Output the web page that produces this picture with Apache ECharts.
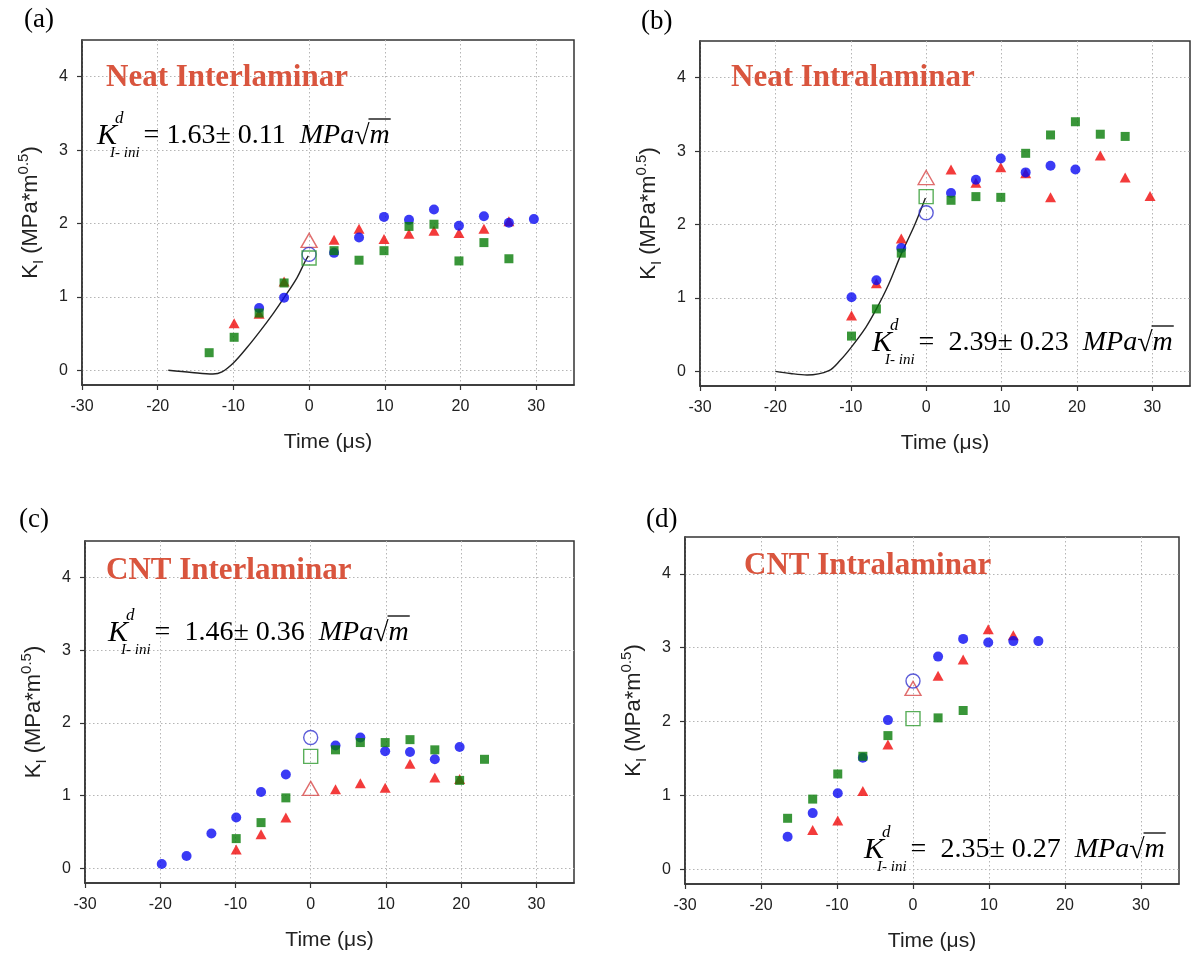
<!DOCTYPE html>
<html><head><meta charset="utf-8">
<script src="https://cdn.jsdelivr.net/npm/echarts@6.0.0/dist/echarts.min.js"></script>
<style>html,body{margin:0;padding:0;background:#fff}#c{width:1191px;height:958px}</style>
</head><body><div id="c"></div>
<script>
// ---------- DATA ----------
const xTicks = [-30, -20, -10, 0, 10, 20, 30];
const yTicks = [0, 1, 2, 3, 4];
const panelTitles = ['Neat Interlaminar', 'Neat Intralaminar', 'CNT Interlaminar', 'CNT Intralaminar'];
const panelLetters = ['(a)', '(b)', '(c)', '(d)'];
const kIniText = ['1.63\u00b1 0.11', '2.39\u00b1 0.23', '1.46\u00b1 0.36', '2.35\u00b1 0.27'];

// (a) Neat Interlaminar
const aRedT = [-9.9, -6.6, -3.3, 3.3, 6.6, 9.9, 13.2, 16.5, 19.8, 23.1, 26.4];
const aRedK = [0.64, 0.77, 1.21, 1.78, 1.93, 1.79, 1.86, 1.90, 1.87, 1.93, 2.03];
const aBlueT = [-6.6, -3.3, 3.3, 6.6, 9.9, 13.2, 16.5, 19.8, 23.1, 26.4, 29.7];
const aBlueK = [0.85, 0.99, 1.60, 1.81, 2.09, 2.05, 2.19, 1.97, 2.10, 2.01, 2.06];
const aGreenT = [-13.2, -9.9, -6.6, -3.3, 3.3, 6.6, 9.9, 13.2, 16.5, 19.8, 23.1, 26.4];
const aGreenK = [0.24, 0.45, 0.78, 1.19, 1.63, 1.50, 1.63, 1.96, 1.99, 1.49, 1.74, 1.52];
const aOpenK = [1.77, 1.58, 1.53]; // red, blue, green at t = 0
const aCurveT = [-18.6, -15.5, -12.7, -11.5, -10, -8.2, -6.5, -4.7, -3.3, -1.6, -0.5, -0.1];
const aCurveK = [0, -0.03, -0.05, -0.02, 0.1, 0.31, 0.53, 0.78, 0.99, 1.26, 1.49, 1.56];

// (b) Neat Intralaminar
const bRedT = [-9.9, -6.6, -3.3, 3.3, 6.6, 9.9, 13.2, 16.5, 23.1, 26.4, 29.7];
const bRedK = [0.76, 1.20, 1.81, 2.75, 2.57, 2.78, 2.70, 2.37, 2.94, 2.64, 2.39];
const bBlueT = [-9.9, -6.6, -3.3, 3.3, 6.6, 9.9, 13.2, 16.5, 19.8];
const bBlueK = [1.01, 1.24, 1.68, 2.43, 2.61, 2.90, 2.71, 2.80, 2.75];
const bGreenT = [-9.9, -6.6, -3.3, 3.3, 6.6, 9.9, 13.2, 16.5, 19.8, 23.1, 26.4];
const bGreenK = [0.48, 0.85, 1.61, 2.33, 2.38, 2.37, 2.97, 3.22, 3.40, 3.23, 3.20];
const bOpenK = [2.64, 2.16, 2.38];
const bCurveT = [-20, -18, -15.8, -12.9, -11.4, -10, -8, -6.6, -5, -3.3, -1.5, -0.1];
const bCurveK = [0, -0.03, -0.05, 0.01, 0.15, 0.32, 0.6, 0.85, 1.18, 1.6, 2.0, 2.36];

// (c) CNT Interlaminar
const cRedT = [-9.9, -6.6, -3.3, 3.3, 6.6, 9.9, 13.2, 16.5, 19.8];
const cRedK = [0.26, 0.47, 0.70, 1.09, 1.17, 1.11, 1.44, 1.25, 1.23];
const cBlueT = [-19.8, -16.5, -13.2, -9.9, -6.6, -3.3, 3.3, 6.6, 9.9, 13.2, 16.5, 19.8];
const cBlueK = [0.06, 0.17, 0.48, 0.70, 1.05, 1.29, 1.69, 1.80, 1.61, 1.60, 1.50, 1.67];
const cGreenT = [-9.9, -6.6, -3.3, 3.3, 6.6, 9.9, 13.2, 16.5, 19.8, 23.1];
const cGreenK = [0.41, 0.63, 0.97, 1.63, 1.73, 1.73, 1.77, 1.63, 1.21, 1.50];
const cOpenK = [1.10, 1.80, 1.54];

// (d) CNT Intralaminar
const dRedT = [-13.2, -9.9, -6.6, -3.3, 3.3, 6.6, 9.9, 13.2];
const dRedK = [0.53, 0.66, 1.06, 1.69, 2.62, 2.84, 3.25, 3.17];
const dBlueT = [-16.5, -13.2, -9.9, -6.6, -3.3, 3.3, 6.6, 9.9, 13.2, 16.5];
const dBlueK = [0.44, 0.76, 1.03, 1.51, 2.02, 2.88, 3.12, 3.07, 3.09, 3.09];
const dGreenT = [-16.5, -13.2, -9.9, -6.6, -3.3, 3.3, 6.6];
const dGreenK = [0.69, 0.95, 1.29, 1.53, 1.81, 2.05, 2.15];
const dOpenK = [2.45, 2.55, 2.04];

// ---------- BUILD ----------
const SANS = '"Liberation Sans", Arial, sans-serif';
const SERIF = '"Liberation Serif", "Times New Roman", serif';
const panels = [
  {red: [aRedT, aRedK], blue: [aBlueT, aBlueK], green: [aGreenT, aGreenK], open: aOpenK, curve: [aCurveT, aCurveK]},
  {red: [bRedT, bRedK], blue: [bBlueT, bBlueK], green: [bGreenT, bGreenK], open: bOpenK, curve: [bCurveT, bCurveK]},
  {red: [cRedT, cRedK], blue: [cBlueT, cBlueK], green: [cGreenT, cGreenK], open: cOpenK, curve: null},
  {red: [dRedT, dRedK], blue: [dBlueT, dBlueK], green: [dGreenT, dGreenK], open: dOpenK, curve: null}
];
const layouts = [
  {left: 82, top: 40, width: 492, height: 345},
  {left: 700, top: 41, width: 490, height: 345},
  {left: 85, top: 541, width: 489, height: 342},
  {left: 685, top: 537, width: 494, height: 347}
];
const titlePos = [[106, 78], [731, 78], [106, 571], [744, 566]];
const formulaPos = [[97, 136], [872, 343], [108, 633], [864, 850]];
const letterPos = [[24, 20], [641, 22], [19, 520], [646, 520]];

function pairs(T, K) { return T.map((t, i) => [t, K[i]]); }

const grids = [], xAxes = [], yAxes = [], series = [];
const gridLine = {show: true, lineStyle: {color: '#b5b5b5', type: [1.5, 2.5], width: 1}};
panels.forEach((p, i) => {
  const L = layouts[i];
  grids.push({left: L.left, top: L.top, width: L.width, height: L.height, show: true,
    borderColor: '#333', borderWidth: 1.5, containLabel: false, outerBoundsMode: 'none'});
  xAxes.push({gridIndex: i, type: 'value', min: -30, max: 35,
    axisLine: {onZero: false, lineStyle: {color: '#333', width: 1.5}},
    axisTick: {customValues: xTicks, length: 5, lineStyle: {color: '#333', width: 1.2}},
    axisLabel: {customValues: xTicks, fontSize: 16, color: '#222', margin: 14, fontFamily: SANS},
    splitLine: gridLine,
    name: 'Time (\u03bcs)', nameLocation: 'middle', nameGap: 47,
    nameTextStyle: {fontSize: 21, color: '#222', fontFamily: SANS}});
  yAxes.push({gridIndex: i, type: 'value', min: -0.2, max: 4.5,
    axisLine: {onZero: false, lineStyle: {color: '#333', width: 1.5}},
    axisTick: {customValues: yTicks, length: 5, lineStyle: {color: '#333', width: 1.2}},
    axisLabel: {customValues: yTicks, fontSize: 16, color: '#222', margin: 14, fontFamily: SANS},
    splitLine: gridLine,
    name: '{b|K}{s|I}{b| (MPa*m}{p|0.5}{b|)}', nameLocation: 'middle', nameGap: 36, nameRotate: 90,
    nameTextStyle: {color: '#222', fontFamily: SANS, rich: {
      b: {fontSize: 22, fontFamily: SANS, color: '#222', lineHeight: 30},
      s: {fontSize: 15, fontFamily: SANS, color: '#222', lineHeight: 15, verticalAlign: 'bottom'},
      p: {fontSize: 15, fontFamily: SANS, color: '#222', lineHeight: 15, verticalAlign: 'top'}
    }}});
  if (p.curve) {
    series.push({type: 'line', xAxisIndex: i, yAxisIndex: i, data: pairs(p.curve[0], p.curve[1]),
      symbol: 'none', smooth: 0.35, lineStyle: {color: '#222', width: 1.4}, silent: true, z: 2});
  }
  series.push({type: 'scatter', xAxisIndex: i, yAxisIndex: i, data: pairs(p.red[0], p.red[1]),
    symbol: 'triangle', symbolSize: [11, 10], itemStyle: {color: '#f00a0a'}, silent: true, z: 3});
  series.push({type: 'scatter', xAxisIndex: i, yAxisIndex: i, data: pairs(p.blue[0], p.blue[1]),
    symbol: 'circle', symbolSize: 10, itemStyle: {color: '#0a0af2'}, silent: true, z: 3});
  series.push({type: 'scatter', xAxisIndex: i, yAxisIndex: i, data: pairs(p.green[0], p.green[1]),
    symbol: 'rect', symbolSize: 9, itemStyle: {color: '#087c08'}, silent: true, z: 3});
  series.push({type: 'scatter', xAxisIndex: i, yAxisIndex: i, data: [[0, p.open[0]]],
    symbol: 'triangle', symbolSize: [16, 14], itemStyle: {color: 'rgba(0,0,0,0)', borderColor: '#d84848', borderWidth: 1.4}, silent: true, z: 4});
  series.push({type: 'scatter', xAxisIndex: i, yAxisIndex: i, data: [[0, p.open[1]]],
    symbol: 'circle', symbolSize: 14, itemStyle: {color: 'rgba(0,0,0,0)', borderColor: '#3535d0', borderWidth: 1.4}, silent: true, z: 4});
  series.push({type: 'scatter', xAxisIndex: i, yAxisIndex: i, data: [[0, p.open[2]]],
    symbol: 'rect', symbolSize: 14, itemStyle: {color: 'rgba(0,0,0,0)', borderColor: '#2f9a2f', borderWidth: 1.4}, silent: true, z: 4});
});

// text helpers
const mctx = document.createElement('canvas').getContext('2d');
function mw(font, s) { mctx.font = font; return mctx.measureText(s).width; }
function T(text, x, y, font, fill) {
  return {type: 'text', x: x, y: y, silent: true, z: 10,
    style: {text: text, font: font, fill: fill || '#000', align: 'left', verticalAlign: 'middle'}};
}
function formula(x, y, val, wide) {
  const els = [];
  const fK = 'italic 30px ' + SERIF;
  els.push(T('K', x, y, fK));
  const wK = mw(fK, 'K');
  els.push(T('d', x + wK - 2, y - 17, 'italic 17px ' + SERIF));
  const fs = 'italic 15px ' + SERIF;
  els.push(T('I- ini', x + wK - 7, y + 17, fs));
  let cx = x + wK - 7 + mw(fs, 'I- ini') + 4;
  const fn = '28px ' + SERIF, fi = 'italic 28px ' + SERIF;
  const s1 = (wide ? '=  ' : '= ') + val + '  ';
  els.push(T(s1, cx, y, fn)); cx += mw(fn, s1);
  els.push(T('MPa', cx, y, fi)); cx += mw(fi, 'MPa');
  els.push(T('\u221a', cx, y + 1, fn)); cx += mw(fn, '\u221a');
  els.push(T('m', cx, y, fi));
  const wm = mw(fi, 'm');
  els.push({type: 'line', silent: true, z: 10, shape: {x1: cx - 1, y1: y - 17, x2: cx + wm + 1, y2: y - 17},
    style: {stroke: '#000', lineWidth: 1.3}});
  return els;
}

const graphics = [];
panels.forEach((p, i) => {
  graphics.push(T(panelTitles[i], titlePos[i][0], titlePos[i][1], 'bold 31px ' + SERIF, '#d9553e'));
  graphics.push(T(panelLetters[i], letterPos[i][0], letterPos[i][1], '27px ' + SERIF, '#000'));
  formula(formulaPos[i][0], formulaPos[i][1], kIniText[i], i > 0).forEach(e => graphics.push(e));
});

const chart = echarts.init(document.getElementById('c'), null, {renderer: 'canvas'});
chart.setOption({
  animation: false,
  backgroundColor: '#fff',
  grid: grids, xAxis: xAxes, yAxis: yAxes, series: series,
  graphic: graphics
});
</script></body></html>
